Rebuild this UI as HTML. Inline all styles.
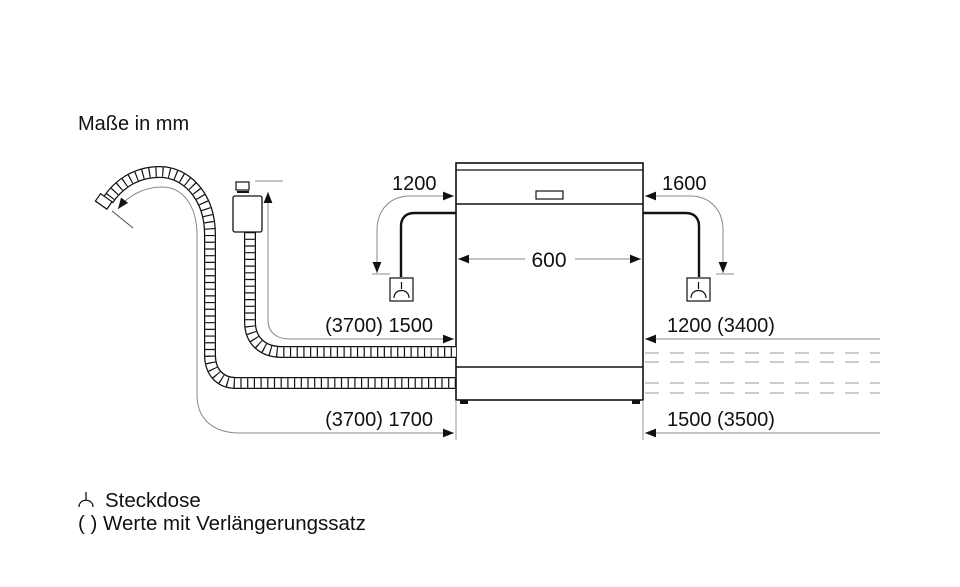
<!DOCTYPE html>
<html><head><meta charset="utf-8"><style>
html,body{margin:0;padding:0;background:#fff;}
svg{display:block;}
text{font-family:"Liberation Sans",Arial,sans-serif;fill:#111;}
</style></head><body>
<svg width="960" height="587" viewBox="0 0 960 587" xmlns="http://www.w3.org/2000/svg">
<defs>
<marker id="a" viewBox="0 0 10 10" refX="10" refY="5" markerWidth="11" markerHeight="11" markerUnits="userSpaceOnUse" orient="auto"><path d="M0,1 L10,5 L0,9 z" fill="#111"/></marker>
</defs>
<text x="78" y="130" font-size="20">Maße in mm</text>

<!-- appliance -->
<rect x="456" y="163" width="187" height="237" fill="#fff" stroke="#111" stroke-width="1.6"/>
<line x1="456" y1="170" x2="643" y2="170" stroke="#111" stroke-width="1.2"/>
<line x1="456" y1="204" x2="643" y2="204" stroke="#111" stroke-width="1.6"/>
<line x1="456" y1="367" x2="643" y2="367" stroke="#111" stroke-width="1.4"/>
<rect x="536" y="191" width="27" height="8" fill="none" stroke="#111" stroke-width="1.2"/>
<rect x="460" y="400" width="8" height="4" fill="#111"/>
<rect x="632" y="400" width="8" height="4" fill="#111"/>
<line x1="456" y1="400" x2="456" y2="440" stroke="#999" stroke-width="1"/>
<line x1="643" y1="400" x2="643" y2="440" stroke="#999" stroke-width="1"/>

<!-- 600 -->
<line x1="525" y1="259" x2="458" y2="259" stroke="#888" marker-end="url(#a)"/>
<line x1="575" y1="259" x2="641" y2="259" stroke="#888" marker-end="url(#a)"/>
<text x="549" y="267" font-size="21" text-anchor="middle">600</text>

<!-- left power -->
<text x="392" y="190" font-size="20">1200</text>
<path d="M410,196 C390,196 377,210 377,230 L377,262" fill="none" stroke="#888"/>
<line x1="410" y1="196" x2="454" y2="196" stroke="#888" marker-end="url(#a)"/>
<path d="M377,261 L377,273" stroke="#888" marker-end="url(#a)"/>
<line x1="372" y1="274" x2="390" y2="274" stroke="#888"/>
<path d="M456,213 L414,213 C406,213 401,218 401,226 L401,277" fill="none" stroke="#111" stroke-width="2.4"/>
<rect x="390" y="278" width="23" height="23" fill="#fff" stroke="#111" stroke-width="1.2"/>
<path d="M401.5,282 L401.5,289 M394,298 C394,288 409,288 409,298" fill="none" stroke="#111" stroke-width="1.2"/>

<!-- right power -->
<text x="662" y="190" font-size="20">1600</text>
<path d="M690,196 C710,196 723,210 723,230 L723,262" fill="none" stroke="#888"/>
<line x1="690" y1="196" x2="645" y2="196" stroke="#888" marker-end="url(#a)"/>
<path d="M723,261 L723,273" stroke="#888" marker-end="url(#a)"/>
<line x1="716" y1="274" x2="734" y2="274" stroke="#888"/>
<path d="M643,213 L686,213 C694,213 699,218 699,226 L699,277" fill="none" stroke="#111" stroke-width="2.4"/>
<rect x="687" y="278" width="23" height="23" fill="#fff" stroke="#111" stroke-width="1.2"/>
<path d="M698.5,282 L698.5,289 M691,298 C691,288 706,288 706,298" fill="none" stroke="#111" stroke-width="1.2"/>

<!-- hoses -->
<g fill="none">
<path d="M250,232 L250,322 C250,340 262,352 282,352 L456,352" stroke="#111" stroke-width="12"/>
<path d="M250,232 L250,322 C250,340 262,352 282,352 L456,352" stroke="#fff" stroke-width="9.5"/>
<path d="M250,232 L250,322 C250,340 262,352 282,352 L456,352" stroke="#111" stroke-width="9.5" stroke-dasharray="1.2 5.5"/>
<path d="M456,383 L236,383 C220,383 210,372 210,355 L210,235 C210,195 185,172 160,172 C135,172 118,185 108,200" stroke="#111" stroke-width="12"/>
<path d="M456,383 L236,383 C220,383 210,372 210,355 L210,235 C210,195 185,172 160,172 C135,172 118,185 108,200" stroke="#fff" stroke-width="9.5"/>
<path d="M456,383 L236,383 C220,383 210,372 210,355 L210,235 C210,195 185,172 160,172 C135,172 118,185 108,200" stroke="#111" stroke-width="9.5" stroke-dasharray="1.2 5.5"/>
</g>
<rect x="97" y="197" width="14" height="9" transform="rotate(35 104 201)" fill="#fff" stroke="#111" stroke-width="1.2"/>
<!-- fixture -->
<rect x="236" y="182" width="13" height="8" fill="#fff" stroke="#111" stroke-width="1.2"/>
<line x1="237" y1="192" x2="249" y2="192" stroke="#111" stroke-width="2"/>
<rect x="233" y="196" width="29" height="36" rx="2" fill="#fff" stroke="#111" stroke-width="1.3"/>

<!-- thin dimension lines left -->
<line x1="255" y1="181" x2="283" y2="181" stroke="#888"/>
<path d="M268,320 L268,192" fill="none" stroke="#888" marker-end="url(#a)"/>
<path d="M268,320 C268,332 276,339 290,339 L454,339" fill="none" stroke="#888" marker-end="url(#a)"/>
<path d="M197,395 L197,235 C197,205 182,187 162,187 C142,187 127,197 118,209" fill="none" stroke="#888" marker-end="url(#a)"/>
<line x1="112" y1="211" x2="133" y2="228" stroke="#555"/>
<path d="M197,395 C197,418 212,433 240,433 L454,433" fill="none" stroke="#888" marker-end="url(#a)"/>
<text x="433" y="332" font-size="20" text-anchor="end">(3700) 1500</text>
<text x="433" y="426" font-size="20" text-anchor="end">(3700) 1700</text>

<!-- right side -->
<line x1="880" y1="339" x2="645" y2="339" stroke="#888" marker-end="url(#a)"/>
<line x1="880" y1="433" x2="645" y2="433" stroke="#888" marker-end="url(#a)"/>
<text x="667" y="332" font-size="20">1200 (3400)</text>
<text x="667" y="426" font-size="20">1500 (3500)</text>
<g stroke="#999" stroke-width="1" stroke-dasharray="14 11">
<line x1="645" y1="353" x2="880" y2="353"/>
<line x1="645" y1="362" x2="880" y2="362"/>
<line x1="645" y1="383" x2="880" y2="383"/>
<line x1="645" y1="393" x2="880" y2="393"/>
</g>

<!-- legend -->
<path d="M86,492 L86,500 M79,507 C79,498 93,498 93,507" fill="none" stroke="#111" stroke-width="1.3"/>
<text x="105" y="507" font-size="20.5">Steckdose</text>
<text x="78" y="530" font-size="20.5">( ) Werte mit Verlängerungssatz</text>
</svg>
</body></html>
